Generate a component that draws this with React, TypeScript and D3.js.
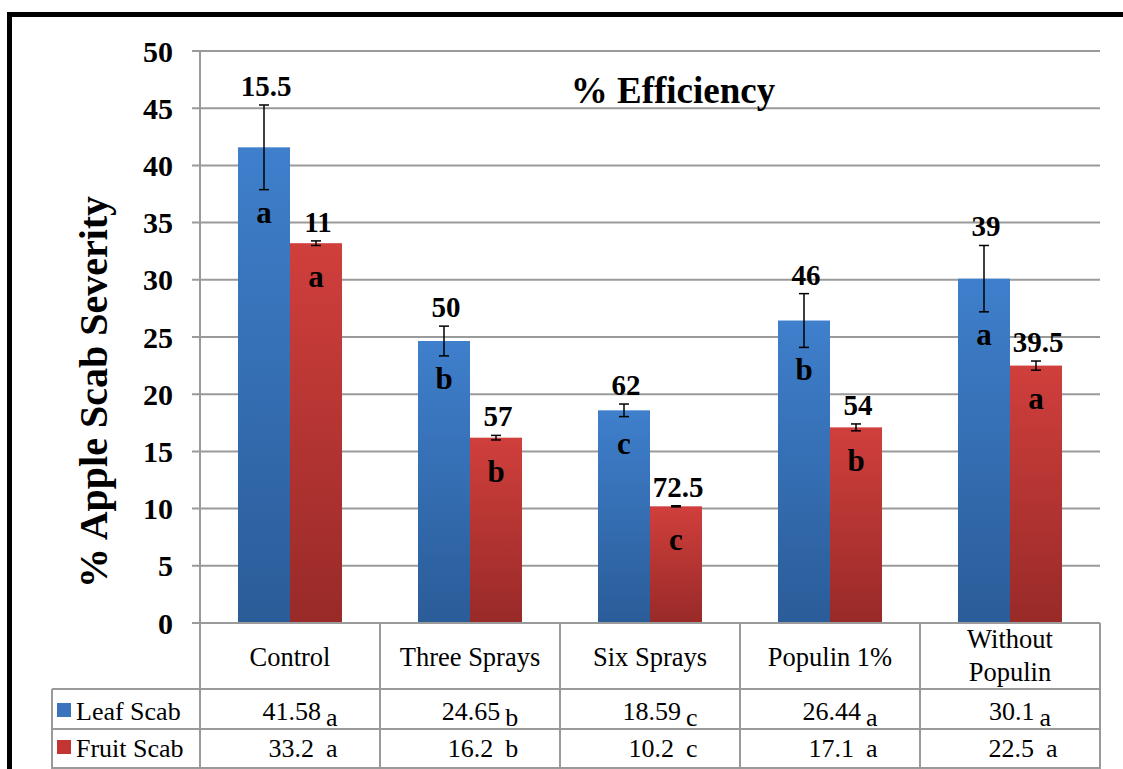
import * as d3 from "d3";
import React from "react";

const categories = ["Control", "Three Sprays", "Six Sprays", "Populin 1%", "Without Populin"];
const leafScab = [41.58, 24.65, 18.59, 26.44, 30.1];
const fruitScab = [33.2, 16.2, 10.2, 17.1, 22.5];
const leafErr = [3.7, 1.3, 0.55, 2.35, 2.9];
const fruitErr = [0.2, 0.2, 0.05, 0.3, 0.4];
const leafEff = ["15.5", "50", "62", "46", "39"];
const fruitEff = ["11", "57", "72.5", "54", "39.5"];
const leafLetters = ["a", "b", "c", "b", "a"];
const fruitLetters = ["a", "b", "c", "b", "a"];
const leafTableLetters = ["a", "b", "c", "a", "a"];
const fruitTableLetters = ["a", "b", "c", "a", "a"];
const yTicks = [0, 5, 10, 15, 20, 25, 30, 35, 40, 45, 50];

const W = 1123;
const H = 769;
const left = 200;
const right = 1100;
const top = 51;
const bottom = 623;
const rowLines = [689, 729, 768];
const grid = "#9a9a9a";
const serif = { fontFamily: '"Liberation Serif"' };

export default function App() {
  const x = d3.scaleBand<string>().domain(categories).range([left, right]);
  const sub = d3.scaleBand<string>().domain(["leaf", "fruit"]).range([38, 142]);
  const y = d3.scaleLinear().domain([0, 50]).range([bottom, top]);

  const series = [
    { key: "leaf", name: "Leaf Scab", values: leafScab, err: leafErr, eff: leafEff, letters: leafLetters, tLetters: leafTableLetters, grad: "gBlue", legend: "#3b74bd" },
    { key: "fruit", name: "Fruit Scab", values: fruitScab, err: fruitErr, eff: fruitEff, letters: fruitLetters, tLetters: fruitTableLetters, grad: "gRed", legend: "#c23533" },
  ];

  return (
    <div style={{ position: "absolute", left: 0, top: 0 }}>
      <svg width={W} height={H} style={{ display: "block", background: "#fff" }}>
        <defs>
          <linearGradient id="gBlue" x1="0" y1="0" x2="0" y2="1">
            <stop offset="0" stopColor="#3f7fcc" />
            <stop offset="1" stopColor="#2a5c98" />
          </linearGradient>
          <linearGradient id="gRed" x1="0" y1="0" x2="0" y2="1">
            <stop offset="0" stopColor="#d03f3c" />
            <stop offset="1" stopColor="#982a28" />
          </linearGradient>
        </defs>

        {/* outer frame */}
        <rect x={9.5} y={14.5} width={1200} height={900} fill="none" stroke="#000" strokeWidth={5} />

        {/* gridlines + y ticks */}
        {yTicks.map((t) => (
          <g key={t}>
            <line x1={left - 8} x2={right} y1={y(t)} y2={y(t)} stroke={grid} strokeWidth={2} />
            <text x={173} y={y(t)} dy="0.35em" textAnchor="end" fontWeight="bold" fontSize={30} style={serif}>
              {t}
            </text>
          </g>
        ))}

        {/* bars */}
        {series.map((s) =>
          categories.map((c, i) => {
            const bx = x(c)! + sub(s.key)!;
            const bw = sub.bandwidth();
            const cx = bx + bw / 2;
            const v = s.values[i];
            const e = s.err[i];
            const letterY = Math.max(y(v) + 33, y(v - e) + 22);
            return (
              <g key={s.key + c}>
                <rect x={bx} y={y(v)} width={bw} height={bottom - y(v)} fill={`url(#${s.grad})`} />
                <line x1={cx} x2={cx} y1={y(v + e)} y2={y(v - e)} stroke="#000" strokeWidth={1.5} />
                <line x1={cx - 5} x2={cx + 5} y1={y(v + e)} y2={y(v + e)} stroke="#000" strokeWidth={1.5} />
                <line x1={cx - 5} x2={cx + 5} y1={y(v - e)} y2={y(v - e)} stroke="#000" strokeWidth={1.5} />
                <text x={cx + 2} y={y(v + e) - 9} textAnchor="middle" fontWeight="bold" fontSize={29} style={serif}>
                  {s.eff[i]}
                </text>
                <text x={cx} y={letterY} dy="0.35em" textAnchor="middle" fontWeight="bold" fontSize={31} style={serif}>
                  {s.letters[i]}
                </text>
              </g>
            );
          })
        )}

        {/* title */}
        <text x={673} y={103} textAnchor="middle" fontWeight="bold" fontSize={37} style={serif}>
          % Efficiency
        </text>
        <text
          transform={`translate(107,392) rotate(-90)`}
          textAnchor="middle"
          fontWeight="bold"
          fontSize={40}
          style={serif}
        >
          % Apple Scab Severity
        </text>

        {/* data table */}
        <line x1={left} x2={left} y1={top} y2={H} stroke={grid} strokeWidth={2} />
        {categories.map((c) => (
          <line key={"v" + c} x1={x(c)! + x.bandwidth()} x2={x(c)! + x.bandwidth()} y1={bottom} y2={H} stroke={grid} strokeWidth={2} />
        ))}
        <line x1={left} x2={right} y1={bottom} y2={bottom} stroke={grid} strokeWidth={2} />
        {rowLines.map((r) => (
          <line key={"h" + r} x1={52} x2={right} y1={r} y2={r} stroke={grid} strokeWidth={2} />
        ))}
        <line x1={52} x2={52} y1={rowLines[0]} y2={H} stroke={grid} strokeWidth={2} />

        {categories.map((c) => {
          const cx = x(c)! + x.bandwidth() / 2;
          if (c === "Without Populin") {
            return (
              <text key={"lab" + c} x={cx} textAnchor="middle" fontSize={26.5} style={serif}>
                <tspan x={cx} y={648}>Without</tspan>
                <tspan x={cx} y={681}>Populin</tspan>
              </text>
            );
          }
          return (
            <text key={"lab" + c} x={cx} y={666} textAnchor="middle" fontSize={26.5} style={serif}>
              {c}
            </text>
          );
        })}

        {series.map((s, si) => {
          const ry = si === 0 ? 720 : 757;
          return (
            <g key={"row" + s.key}>
              <rect x={57} y={ry - 17} width={14} height={14} fill={s.legend} />
              <text x={76} y={ry} fontSize={26} style={serif}>
                {s.name}
              </text>
              {categories.map((c, i) => {
                const cx = x(c)! + x.bandwidth() / 2;
                return si === 0 ? (
                  <text key={"cell" + c} x={cx + 10} y={ry} textAnchor="middle" fontSize={26} style={serif}>
                    {s.values[i]}
                    <tspan dx={5} dy={6}>{s.tLetters[i]}</tspan>
                  </text>
                ) : (
                  <text key={"cell" + c} x={cx + 13} y={ry} textAnchor="middle" fontSize={26} style={serif}>
                    {s.values[i]}
                    <tspan dx={12}>{s.tLetters[i]}</tspan>
                  </text>
                );
              })}
            </g>
          );
        })}
      </svg>
    </div>
  );
}
